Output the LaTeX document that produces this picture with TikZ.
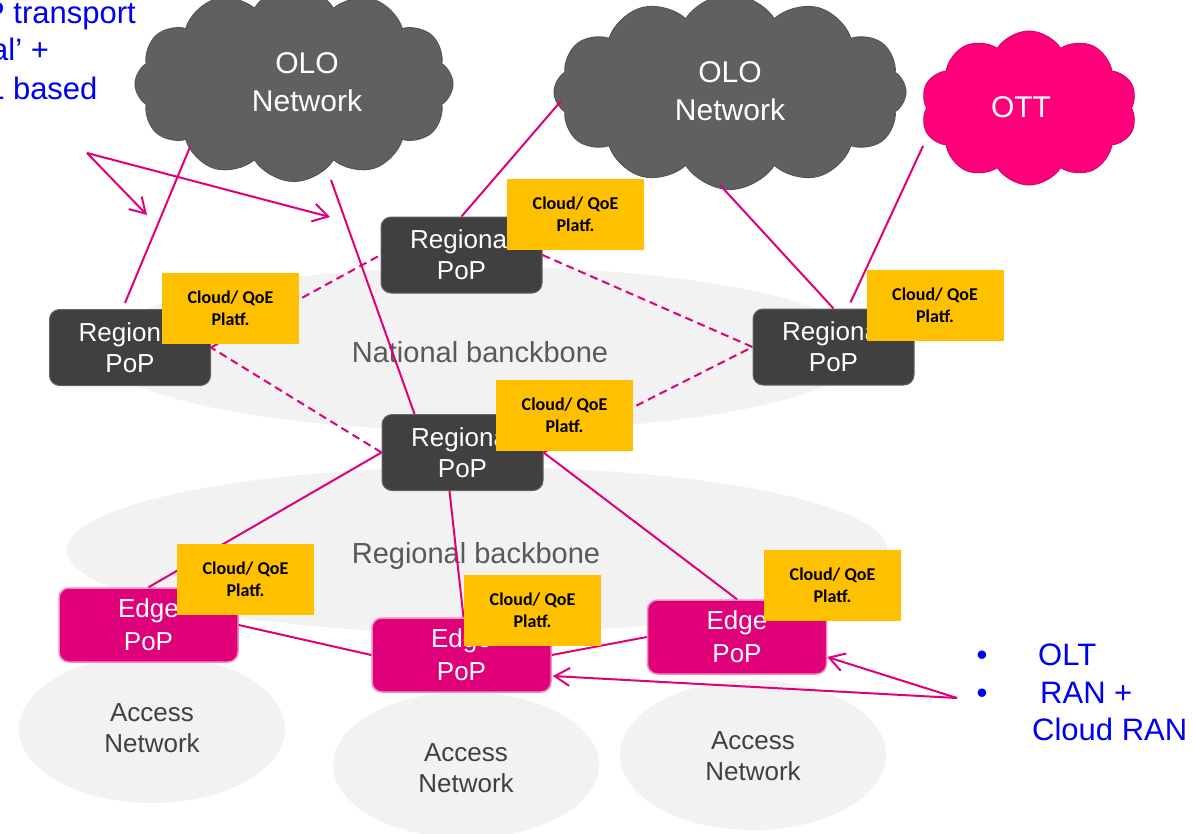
\documentclass[tikz,border=0pt]{standalone}
\usepackage{fontspec}
\setmainfont{Liberation Sans}
\newfontfamily\qoefont{Carlito}
\usetikzlibrary{shapes.symbols,shapes.geometric,arrows.meta,calc}

\definecolor{areagray}{RGB}{242,242,242}
\definecolor{popgray}{RGB}{64,64,64}
\definecolor{popedge}{RGB}{100,100,100}
\definecolor{edgemag}{RGB}{224,0,122}
\definecolor{edgerim}{RGB}{240,140,195}
\definecolor{linkmag}{RGB}{224,0,122}
\definecolor{qoeyellow}{RGB}{255,192,0}
\definecolor{olofill}{RGB}{96,96,96}
\definecolor{olorim}{RGB}{84,84,84}
\definecolor{ottfill}{RGB}{255,0,122}
\definecolor{ottrim}{RGB}{214,0,110}
\definecolor{notegray}{RGB}{89,89,89}
\definecolor{accgray}{RGB}{64,64,64}
\definecolor{noteblue}{RGB}{0,0,240}

\begin{document}
\begin{tikzpicture}[x=1pt,y=-1pt,
  area/.style={ellipse, fill=areagray, draw=none, inner sep=0pt},
  arealabel/.style={text=notegray, font=\fontsize{29}{34}\selectfont, inner sep=0pt, anchor=base},
  acclabel/.style={text=accgray, font=\fontsize{26}{31}\selectfont, align=center, inner sep=0pt},
  olocloud/.style={cloud, cloud puffs=12, cloud puff arc=115, cloud ignores aspect,
    fill=olofill, draw=olorim, line width=1pt, inner sep=0pt},
  ottcloud/.style={cloud, cloud puffs=10, cloud puff arc=115, cloud ignores aspect,
    fill=ottfill, draw=ottrim, line width=1pt, inner sep=0pt},
  cloudtext/.style={text=white, font=\fontsize{30}{38}\selectfont, align=center, inner sep=0pt},
  regpop/.style={rectangle, rounded corners=10pt, fill=popgray, draw=popedge, line width=1pt,
    minimum width=161pt, minimum height=76pt, inner sep=0pt, text=white, align=center,
    font=\fontsize{26}{31}\selectfont},
  edgepop/.style={rectangle, rounded corners=10pt, fill=edgemag, draw=edgerim, line width=1.5pt,
    minimum width=179pt, minimum height=74pt, inner sep=0pt, text=white, align=center,
    font=\fontsize{26}{33}\selectfont},
  qoe/.style={rectangle, fill=qoeyellow, minimum width=137pt, minimum height=71pt, inner sep=0pt,
    align=center, text=black, font=\qoefont\bfseries\fontsize{18}{22}\selectfont},
  link/.style={draw=linkmag, line width=2pt},
  ring/.style={link, dash pattern=on 8pt off 5pt},
  pointer/.style={link, -{Straight Barb[length=15pt,width=18pt]}},
  note/.style={text=noteblue, font=\fontsize{31}{37}\selectfont, inner sep=0pt}
]
\path[use as bounding box] (0,0) rectangle (1194,833);
\clip (0,0) rectangle (1194,833);
\fill[white] (0,0) rectangle (1194,833);

% backbone and access areas
\node[area, minimum width=770pt, minimum height=164pt] (natarea) at (482,349) {};
\node[area, minimum width=820pt, minimum height=166pt] (regarea) at (477,550) {};
\node[area, minimum width=266pt, minimum height=148pt] (acc1) at (152,729) {};
\node[area, minimum width=266pt, minimum height=146pt] (acc2) at (466,765) {};
\node[area, minimum width=266pt, minimum height=150pt] (acc3) at (753,755) {};
\node[arealabel] (natlabel) at (480,362) {National banckbone};
\node[arealabel] (reglabel) at (476,563) {Regional backbone};
\node[acclabel] (acc1t) at (152,728) {Access\\Network};
\node[acclabel] (acc2t) at (466,768) {Access\\Network};
\node[acclabel] (acc3t) at (753,756) {Access\\Network};

% external networks
\node[olocloud, minimum width=318pt, minimum height=195pt] (olo1) at (294,84) {};
\node[cloudtext] (olo1t) at (307,82) {OLO\\Network};
\node[olocloud, minimum width=352pt, minimum height=195pt] (olo2) at (730,92) {};
\node[cloudtext] (olo2t) at (730,91) {OLO\\Network};
\node[ottcloud, minimum width=216pt, minimum height=154pt] (ott) at (1029,108) {};
\node[cloudtext] (ottt) at (1021,107) {OTT};

% points of presence
\node[regpop] (rpl) at (130,347.5) {Regional\\PoP};
\node[regpop] (rpt) at (461.5,255) {Regional\\PoP};
\node[regpop] (rpr) at (833.5,347) {Regional\\PoP};
\node[regpop] (rpm) at (462.5,452.5) {Regional\\PoP};
\node[edgepop] (e1) at (148.5,625) {Edge\\PoP};
\node[edgepop] (e2) at (461.5,655) {Edge\\PoP};
\node[edgepop] (e3) at (737,637) {Edge\\PoP};

% free ends of connectors
\coordinate (o1a) at (190,147);
\coordinate (o1b) at (331,180);
\coordinate (o2a) at (561,101);
\coordinate (o2b) at (720,185);
\coordinate (ottp) at (923,146);
\coordinate (hintL) at (87,153);
\coordinate (tipA) at (147,215);
\coordinate (tipB) at (330,217);
\coordinate (hintR) at (957,698);

% interconnections
\draw[link] (o1a) -- ($(rpl.north)+(-5,-6)$);
\draw[link] (o1b) -- ($(rpm.north west)+(33,0)$);
\draw[link] (o2a) -- (rpt.north);
\draw[link] (o2b) -- (rpr.north);
\draw[link] (ottp) -- ($(rpr.north)+(17,-6)$);
\draw[link] (rpm.west) -- (e1.north);
\draw[link] ($(rpm.south)+(-13,0)$) -- ($(e2.north)+(2,0)$);
\draw[link] (rpm.east) -- (e3.north);
\draw[link] (e1.east) -- (e2.west);
\draw[link] (e2.east) -- (e3.west);

% national backbone ring
\draw[ring] (rpl.east) -- (rpt.west);
\draw[ring] (rpt.east) -- (rpr.west);
\draw[ring] (rpm.west) -- (rpl.east);
\draw[ring] (rpm.east) -- (rpr.west);

% annotation pointers
\draw[pointer] (hintL) -- (tipA);
\draw[pointer] (hintL) -- (tipB);
\draw[pointer] (hintR) -- ($(e3.east)+(0,20)$);
\draw[pointer] (hintR) -- ($(e2.east)+(1,21)$);

% cloud / QoE platforms
\node[qoe] (ql) at (230.5,308) {Cloud/ QoE\\Platf.};
\node[qoe] (qt) at (575.5,214.5) {Cloud/ QoE\\Platf.};
\node[qoe] (qr) at (935,305.5) {Cloud/ QoE\\Platf.};
\node[qoe] (qm) at (564.5,415.5) {Cloud/ QoE\\Platf.};
\node[qoe] (qe1) at (245.5,579.5) {Cloud/ QoE\\Platf.};
\node[qoe] (qe2) at (532.5,610) {Cloud/ QoE\\Platf.};
\node[qoe] (qe3) at (832.5,585.5) {Cloud/ QoE\\Platf.};

% notes
\node[note, anchor=base west] (n1) at (-16,23) {P transport};
\node[note, anchor=base west] (n2) at (-9,60) {al’ +};
\node[note, anchor=base west] (n3) at (-13,99) {L based};
\node[note, anchor=base] (b1) at (982,665) {•};
\node[note, anchor=base] (b2) at (982,703) {•};
\node[note, anchor=base west] (t1) at (1038,665) {OLT};
\node[note, anchor=base west] (t2) at (1040,703) {RAN +};
\node[note, anchor=base west] (t3) at (1032,740) {Cloud RAN};
\end{tikzpicture}
\end{document}
